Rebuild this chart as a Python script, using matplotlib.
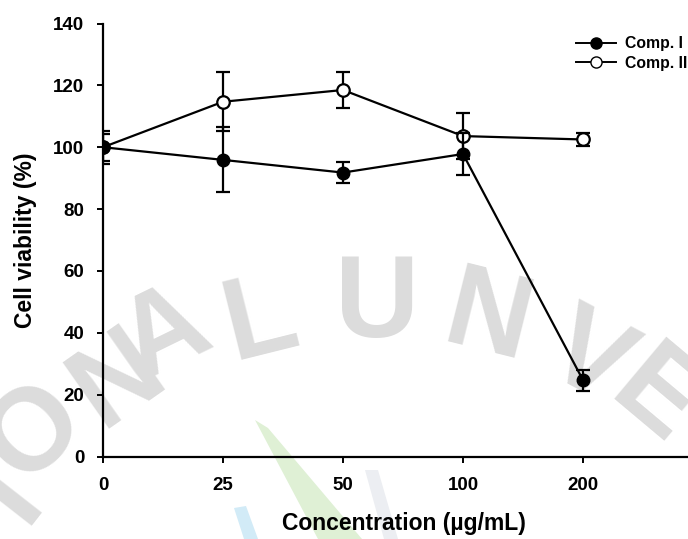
import matplotlib.pyplot as plt
from matplotlib.patches import Polygon
from matplotlib.lines import Line2D

plt.rcParams['font.family'] = ['Liberation Sans', 'DejaVu Sans']
plt.rcParams['font.weight'] = 'bold'

# 농도별 세포 생존율 (평균 ± SD)
conc_labels = ['0', '25', '50', '100', '200']
comp1_mean = [100, 95.9, 91.8, 97.8, 24.7]
comp1_sd = [5.3, 10.5, 3.5, 6.8, 3.4]
comp2_mean = [100, 114.7, 118.5, 103.6, 102.5]
comp2_sd = [4.3, 9.5, 5.7, 7.4, 2.0]

# 배경 워터마크 글자
wm_letters = ['I', 'O', 'N', 'A', 'L', 'U', 'N', 'V', 'E']
wm_x = [10, 35, 118, 165, 260, 377, 487, 588, 655]
wm_y = [495, 433, 380, 336, 322, 307, 322, 360, 400]
wm_rot = [52, 45, 35, 26, 14, 0, -14, -28, -40]

W, H = 688, 539
fig = plt.figure(figsize=(W / 100, H / 100), dpi=100)

for ch, px, py, rot in zip(wm_letters, wm_x, wm_y, wm_rot):
    fig.text(px / W, 1 - py / H, ch, fontsize=84, fontweight='bold',
             color='#dcdcdc', rotation=rot, ha='center', va='center',
             zorder=0)


def stroke(pts, color):
    fig.patches.append(Polygon([(px / W, 1 - py / H) for px, py in pts],
                               closed=True, transform=fig.transFigure,
                               facecolor=color, edgecolor='none', zorder=0))


# 아래쪽 장식 획 (녹색, 파란색, 회색)
stroke([(255, 420), (268, 428), (362, 539), (318, 539)], '#dff0d5')
stroke([(234, 508), (246, 506), (258, 539), (244, 539)], '#d2ebf7')
stroke([(365, 470), (378, 470), (398, 539), (384, 539)], '#eceef2')

x_left, x_step = 103, 120
y_bottom, y_top = 456.5, 23.5
ax = fig.add_axes([x_left / W, 1 - y_bottom / H, (W - x_left) / W,
                   (y_bottom - y_top) / H])
ax.patch.set_alpha(0)
ax.set_zorder(2)

x = list(range(len(conc_labels)))

ax.errorbar(x, comp1_mean, yerr=comp1_sd, color='black', lw=1.6,
            marker='o', ms=9, mfc='black', mec='black',
            capsize=4.7, capthick=1.6, elinewidth=1.6, zorder=4)
ax.errorbar(x, comp2_mean, yerr=comp2_sd, color='black', lw=1.6,
            marker='o', ms=9, mfc='white', mec='black', mew=1.6,
            capsize=4.7, capthick=1.6, elinewidth=1.6, zorder=3)

ax.set_xlim(0, (W - x_left) / x_step)
ax.set_ylim(0, 140)
ax.set_xticks(x)
ax.set_xticklabels(conc_labels)
ax.set_yticks(range(0, 141, 20))

for side in ['top', 'right']:
    ax.spines[side].set_visible(False)
for side in ['left', 'bottom']:
    ax.spines[side].set_linewidth(1.6)

ax.tick_params(axis='y', direction='out', length=4.5, width=1.4,
               labelsize=13.5, pad=9)
ax.tick_params(axis='x', direction='out', length=4.5, width=1.4,
               labelsize=13.5, pad=10)
for lbl in ax.get_xticklabels() + ax.get_yticklabels():
    lbl.set_fontweight('bold')

ax.set_xlabel('Concentration (µg/mL)', fontsize=16.5, fontweight='bold')
ax.xaxis.set_label_coords((404 - x_left) / (W - x_left), -0.128)
ax.set_ylabel('Cell viability (%)', fontsize=16.5, fontweight='bold')
ax.yaxis.set_label_coords(-0.113, 0.5)

handles = [
    Line2D([], [], color='black', lw=1.4, marker='o', ms=8, mfc='black'),
    Line2D([], [], color='black', lw=1.4, marker='o', ms=8, mfc='white'),
]
leg = fig.legend(handles, ['Comp. I', 'Comp. II'], loc='upper left',
                 bbox_to_anchor=(570 / W, 1 - 30 / H), frameon=False,
                 prop={'weight': 'bold', 'size': 11.3}, handlelength=2.5,
                 handletextpad=0.6, labelspacing=0.28, borderaxespad=0)
leg.set_zorder(3)

fig.savefig('out.png', dpi=100)
